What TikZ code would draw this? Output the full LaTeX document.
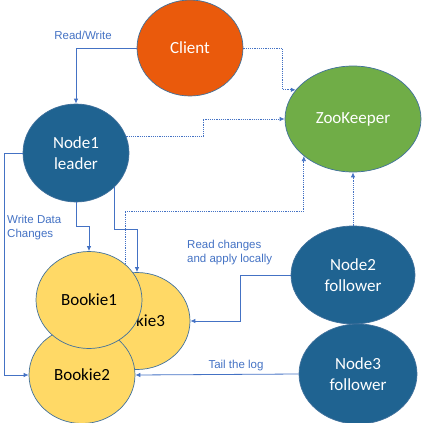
\documentclass[tikz,border=0pt]{standalone}
\usepackage{fontspec}
\setmainfont{Carlito}
\newfontfamily\labelfont{Liberation Sans}
\usetikzlibrary{shapes.geometric,arrows.meta}

\definecolor{clientorange}{HTML}{EA5A0C}
\definecolor{zkgreen}{HTML}{70AD47}
\definecolor{nodeblue}{HTML}{1F6391}
\definecolor{bookieyellow}{HTML}{FFD966}
\definecolor{rimblue}{HTML}{41719C}
\definecolor{flowblue}{HTML}{4472C4}

\tikzset{
    blob/.style={ellipse, draw=rimblue, line width=0.7pt, inner sep=0pt,
        align=center, font=\fontsize{17}{21}\selectfont},
    server/.style={blob, fill=nodeblue, text=white},
    bookie/.style={blob, fill=bookieyellow, text=black,
        minimum width=106pt, minimum height=97pt},
    flow/.style={draw=flowblue, line width=0.8pt,
        -{Latex[length=5pt,width=4.5pt]}},
    zkflow/.style={flow, dash pattern=on 1.2pt off 1pt},
    note/.style={text=flowblue, align=left, inner sep=0pt,
        font=\labelfont\fontsize{11.5}{14}\selectfont}
}

\begin{document}
\begin{tikzpicture}[x=1pt, y=-1pt]
    \useasboundingbox (0,0) rectangle (422,423);

    % nodes
    \node [blob, fill=clientorange, text=white, minimum width=106pt, minimum height=96pt] (Client) at (190,48) {Client};
    \node [blob, fill=zkgreen, text=white, minimum width=136pt, minimum height=106pt] (ZooKeeper) at (353,119) {ZooKeeper};
    \node [server, minimum width=106pt, minimum height=98pt] (Node1) at (76,153) {Node1\\leader};
    \node [server, minimum width=124pt, minimum height=98pt] (Node2) at (353,275) {Node2\\follower};
    \node [server, minimum width=118pt, minimum height=100pt] (Node3) at (358,374) {Node3\\follower};

    % bookies, back to front
    \node [bookie] (Bookie3) at (137,321) {Bookie3};
    \node [bookie] (Bookie2) at (82,375) {Bookie2};
    \node [bookie] (Bookie1) at (89,300) {Bookie1};

    % connectors
    \draw [flow] (Client.west) -| (Node1.north);
    \draw [zkflow] (Client.east) -- ++(39,0) |- (ZooKeeper.153);
    \draw [zkflow] (Node1.18) -- ++(77,0) |- (ZooKeeper.west);
    \draw [flow] (Node1.south) -- ++(0,24) -| (Bookie1.north);
    \draw [flow] (Node1.-42) -- ++(0,42) -| (Bookie3.north);
    \draw [flow] (Node1.west) -- ++(-18,0) |- (Bookie2.west);
    \draw [zkflow] (Bookie1.45) -- ++(0,-53) -| (ZooKeeper.217);
    \draw [zkflow] (Node2.north) -- (ZooKeeper.south);
    \draw [flow] (Node2.west) -- ++(-50,0) |- (Bookie3.east);
    \draw [flow] (Node3.west) -- (Bookie2.east);

    % labels
    \node [note] (rw) at (83,35) {Read/Write};
    \node [note, anchor=west] (wdc) at (7,228) {Write Data\\Changes};
    \node [note, anchor=west] (rc) at (187,253) {Read changes\\and apply locally};
    \node [note] (tail) at (236,366) {Tail the log};
\end{tikzpicture}
\end{document}
